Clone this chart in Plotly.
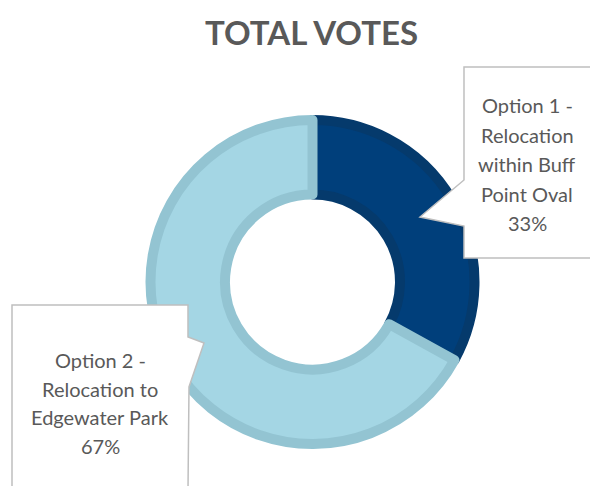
import plotly.graph_objects as go

# ---- data ----
labels = ["Option 1 - Relocation within Buff Point Oval", "Option 2 - Relocation to Edgewater Park"]
values = [33, 67]
callout_lines = [
    ["Option 1 -", "Relocation", "within Buff", "Point Oval"],
    ["Option 2 -", "Relocation to", "Edgewater Park"],
]
title_text = "TOTAL VOTES"

W, H = 590, 486
fill_colors = ["#003F7B", "#A4D6E4"]
line_colors = ["#053A6C", "#93C4D2"]
TXT = "#595959"
FONT = "Lato, 'Open Sans', sans-serif"

def px(x):
    return x / W
def py(y):
    return 1 - y / H

cx, cy, r = 312.5, 282, 162
fig = go.Figure()
fig.add_trace(go.Pie(
    labels=labels, values=values, sort=False, direction="clockwise", rotation=0,
    hole=0.54, textinfo="none", hoverinfo="label+percent", showlegend=False,
    marker=dict(colors=fill_colors, line=dict(color=line_colors, width=10)),
    domain=dict(x=[px(cx - r), px(cx + r)], y=[py(cy + r), py(cy - r)]),
))

def path(points):
    return "M " + " L ".join(f"{px(x):.5f},{py(y):.5f}" for x, y in points) + " Z"

box_line = dict(color="#BFBFBF", width=1.5)
# callout 1 (right)
fig.add_shape(type="path", xref="paper", yref="paper", fillcolor="white", line=box_line,
              path=path([(464, 67), (592, 67), (592, 258), (464, 258), (464, 226), (420, 217), (464, 180)]))
# callout 2 (left)
fig.add_shape(type="path", xref="paper", yref="paper", fillcolor="white", line=box_line,
              path=path([(12, 305), (188, 305), (188, 337), (204, 343), (189, 387), (188, 490), (12, 490)]))

total = sum(values)
pcts = [f"{round(v / total * 100)}%" for v in values]
anchors = [(527, 105, 29.5), (100, 360, 28.5)]
for lines, pct, (ax, ay, dy) in zip(callout_lines, pcts, anchors):
    for i, t in enumerate(lines + [pct]):
        fig.add_annotation(x=px(ax), y=py(ay + i * dy), xref="paper", yref="paper",
                           text=t, showarrow=False, xanchor="center", yanchor="middle",
                           font=dict(family=FONT, size=20, color=TXT))

fig.add_annotation(x=px(311), y=py(32), xref="paper", yref="paper", text=f"<b>{title_text}</b>",
                   showarrow=False, xanchor="center", yanchor="middle",
                   font=dict(family=FONT, size=33, color=TXT))

fig.update_layout(width=W, height=H, margin=dict(l=0, r=0, t=0, b=0),
                  paper_bgcolor="white", plot_bgcolor="white")
fig.write_html("out.html", config={"displayModeBar": False},
               post_script="document.body.style.margin='0';document.body.style.overflow='hidden';")
